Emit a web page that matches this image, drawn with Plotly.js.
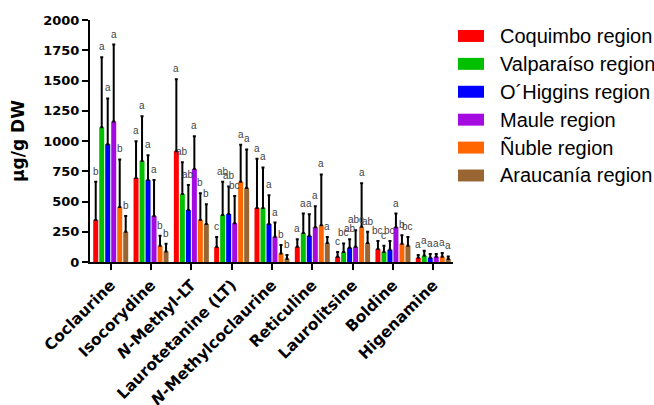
<!DOCTYPE html>
<html>
<head>
<meta charset="utf-8">
<script src="https://cdn.plot.ly/plotly-3.0.1.min.js"></script>
<style>
  html, body { margin: 0; padding: 0; background: #fff; }
  #chart { width: 654px; height: 405px; }
</style>
</head>
<body>
<div id="chart"></div>
<script>
// Alkaloid content (µg/g DW) per compound, by sampling region
const compounds = ['Coclaurine', 'Isocorydine', '<i>N</i>-Methyl-LT', 'Laurotetanine (LT)',
  '<i>N</i>-Methylcoclaurine', 'Reticuline', 'Laurolitsine', 'Boldine', 'Higenamine'];

const regions = ['Coquimbo region', 'Valparaíso region', 'O´Higgins region',
  'Maule region', 'Ñuble region', 'Araucanía region'];

const regionColors = ['#FF0000', '#00C000', '#0000FF', '#A30BE0', '#FF6600', '#996633'];

// mean values
const coquimboMean   = [348, 694, 916, 123, 447, 126, 44, 107, 35];
const valparaisoMean = [1113, 834, 562, 389, 447, 239, 82, 82, 52];
const ohigginsMean   = [974, 677, 430, 397, 315, 216, 118, 101, 35];
const mauleMean      = [1162, 381, 768, 321, 208, 288, 126, 288, 44];
const nubleMean      = [455, 134, 348, 663, 71, 304, 291, 151, 44];
const araucaniaMean  = [249, 87, 315, 611, 27, 156, 156, 134, 25];

// standard deviations (upper error bars)
const coquimboSD   = [315, 304, 595, 83, 406, 63, 38, 66, 23];
const valparaisoSD = [579, 370, 263, 274, 335, 161, 71, 52, 41];
const ohigginsSD   = [378, 206, 206, 228, 236, 179, 71, 72, 31];
const mauleSD      = [635, 296, 271, 225, 118, 173, 137, 112, 22];
const nubleSD      = [393, 82, 220, 305, 69, 420, 359, 71, 30];
const araucaniaSD  = [132, 63, 162, 319, 31, 50, 93, 72, 21];

// significance letters
const coquimboLetters   = ['b', 'a', 'a', 'c', 'a', 'a', 'c', 'bc', 'a'];
const valparaisoLetters = ['a', 'a', 'ab', 'ab', 'a', 'a', 'bc', 'c', 'a'];
const ohigginsLetters   = ['a', 'a', 'ab', 'ab', 'a', 'a', 'ab', 'bc', 'a'];
const mauleLetters      = ['a', 'a', 'a', 'bc', 'a', 'a', 'abc', 'a', 'a'];
const nubleLetters      = ['b', 'b', 'b', 'a', 'b', 'a', 'a', 'b', 'a'];
const araucaniaLetters  = ['b', 'b', 'b', 'a', 'b', 'a', 'ab', 'bc', 'a'];

const means   = [coquimboMean, valparaisoMean, ohigginsMean, mauleMean, nubleMean, araucaniaMean];
const sds     = [coquimboSD, valparaisoSD, ohigginsSD, mauleSD, nubleSD, araucaniaSD];
const letters = [coquimboLetters, valparaisoLetters, ohigginsLetters, mauleLetters, nubleLetters, araucaniaLetters];

// geometry
const W = 654, H = 405;
const M = { l: 90, r: 201, t: 19.5, b: 142.7 };
const plotW = W - M.l - M.r;
const plotH = H - M.t - M.b;
const px2x = (px) => (px - M.l) / plotW;        // page px -> paper x
const py2y = (py) => (H - M.b - py) / plotH;    // page px -> paper y

const BAR_GAP = 0.107;
const GROUP_GAP = 0.167;
const nGroups = regions.length;
const slot = (1 - BAR_GAP) / nGroups;
const idx = compounds.map((_, i) => i);

const traces = [];

// bars with one-sided error bars
regions.forEach((name, k) => {
  traces.push({
    type: 'bar',
    name: name,
    x: idx,
    y: means[k],
    marker: { color: regionColors[k], line: { width: 0 } },
    error_y: {
      type: 'data', symmetric: false,
      array: sds[k], arrayminus: sds[k].map(() => 0),
      color: '#000', thickness: 2, width: 1.5
    },
    showlegend: false,
    hoverinfo: 'skip'
  });
});

// letters above each error bar
const annotations = [];
regions.forEach((name, k) => {
  idx.forEach(i => {
    annotations.push({
      xref: 'x', yref: 'y',
      x: i + (k - (nGroups - 1) / 2) * slot,
      y: means[k][i] + sds[k][i],
      text: letters[k][i],
      showarrow: false,
      xanchor: 'center', yanchor: 'bottom',
      yshift: 3,
      font: { family: 'Liberation Sans, Arial, sans-serif', size: 10, color: '#444' }
    });
  });
});

// key: colour swatch + region name
const shapes = [];
const KEY_X0 = 458, KEY_SW = 26, KEY_SH = 12, KEY_ROW0 = 35.5, KEY_STEP = 28, KEY_TEXT_X = 497.5;
regions.forEach((name, k) => {
  const cy = KEY_ROW0 + k * KEY_STEP;
  shapes.push({
    type: 'rect', xref: 'paper', yref: 'paper',
    x0: px2x(KEY_X0), x1: px2x(KEY_X0 + KEY_SW),
    y0: py2y(cy + KEY_SH / 2), y1: py2y(cy - KEY_SH / 2),
    fillcolor: regionColors[k], line: { width: 0 }, layer: 'above'
  });
  annotations.push({
    xref: 'paper', yref: 'paper',
    x: px2x(KEY_TEXT_X), y: py2y(cy),
    text: name, showarrow: false,
    xanchor: 'left', yanchor: 'middle',
    font: { family: 'Liberation Sans, Arial, sans-serif', size: 20, color: '#000' }
  });
});

const boldFont = (size) => ({ family: 'DejaVu Sans, sans-serif', size: size, color: '#000', weight: 'bold' });

const layout = {
  width: W,
  height: H,
  margin: { l: M.l, r: M.r, t: M.t, b: M.b, pad: 0, autoexpand: false },
  paper_bgcolor: '#fff',
  plot_bgcolor: '#fff',
  barmode: 'group',
  bargap: BAR_GAP,
  bargroupgap: GROUP_GAP,
  showlegend: false,
  annotations: annotations,
  shapes: shapes,
  xaxis: {
    range: [-0.514, 8.49],
    tickmode: 'array', tickvals: idx, ticktext: compounds,
    tickangle: -45,
    ticks: 'outside', ticklen: 6, tickwidth: 2, tickcolor: '#000',
    showline: true, linewidth: 2, linecolor: '#000',
    showgrid: false, zeroline: false,
    tickfont: boldFont(15.5),
    automargin: false,
    fixedrange: true
  },
  yaxis: {
    range: [0, 2000],
    tickmode: 'array', tickvals: [0, 250, 500, 750, 1000, 1250, 1500, 1750, 2000],
    ticks: 'outside', ticklen: 6, tickwidth: 2, tickcolor: '#000',
    showline: true, linewidth: 2, linecolor: '#000',
    showgrid: false, zeroline: false,
    tickfont: boldFont(13),
    title: { text: 'µg/g DW', font: boldFont(17), standoff: 14 },
    automargin: false,
    fixedrange: true
  }
};

Plotly.newPlot('chart', traces, layout, { displayModeBar: false, staticPlot: true });
</script>
</body>
</html>
